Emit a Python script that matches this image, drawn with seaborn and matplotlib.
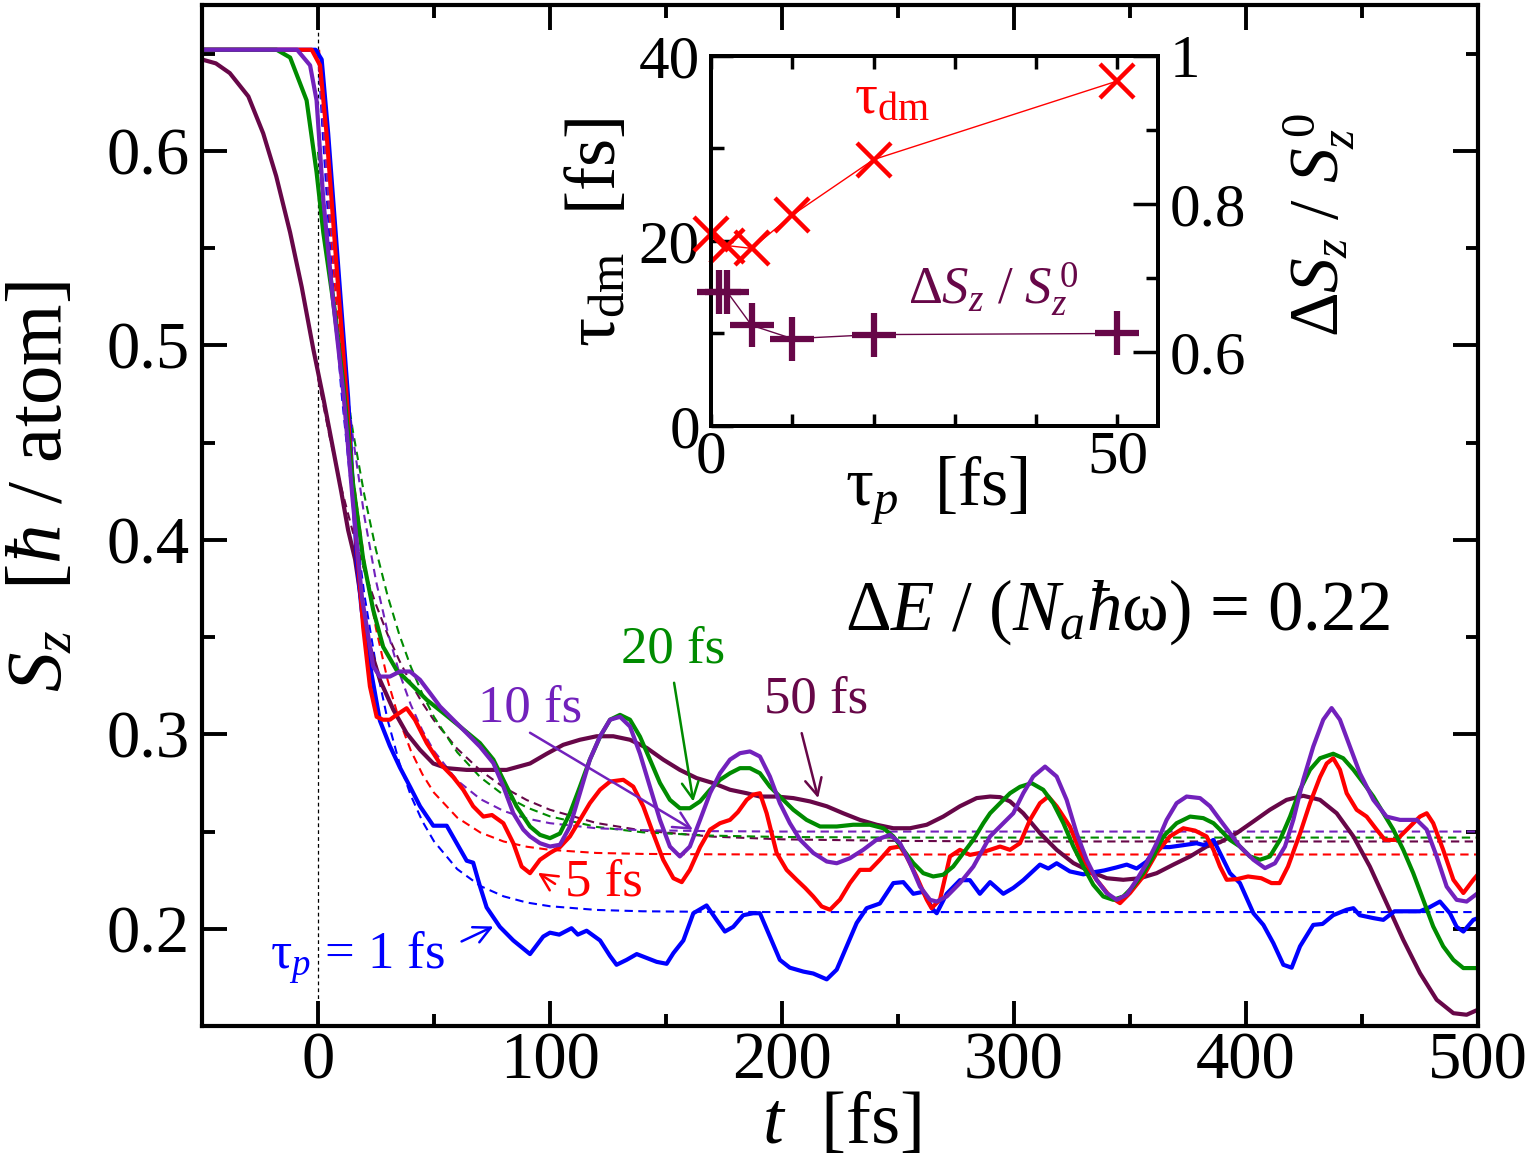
import matplotlib
matplotlib.use("Agg")
import matplotlib.pyplot as plt
from matplotlib.ticker import MultipleLocator, FixedLocator, FuncFormatter
import seaborn as sns

# ---------------- data ----------------
# solid curves: S_z(t) for pulse widths tau_p, (t [fs], S_z [hbar/atom])
tp1_pts = [(-50,0.652),(-1,0.652),(1.6,0.647),(4.4,0.609),(8.7,0.541),(13,0.473),(16.7,0.39),(18.8,0.364),(21,0.347),
           (23.1,0.331),(26.7,0.307),(31,0.294),(35.3,0.283),(39.7,0.273),(44,0.263),(49.7,0.253),(55.5,0.253),(59.8,0.244),
           (64.1,0.235),(66.9,0.234),(69.8,0.222),(72.7,0.211),(78.4,0.201),(84.2,0.194),(91.4,0.187),(97.1,0.196),(100,0.198),
           (104,0.197),(109.3,0.2003),(112,0.197),(115.8,0.199),(121.6,0.194),(125.9,0.186),(128.7,0.1815),(133,0.184),
           (137.4,0.187),(141.7,0.185),(146,0.183),(150.3,0.182),(153.2,0.1875),(157.5,0.194),(161.8,0.208),(167.5,0.212),
           (171.8,0.2046),(175.4,0.1986),(179,0.201),(183.3,0.207),(187.6,0.208),(190.5,0.208),(194.8,0.196),(199.1,0.184),
           (203.4,0.180),(209.2,0.178),(213.5,0.177),(219.3,0.174),(223.6,0.179),(227.9,0.191),(232.2,0.203),(236.5,0.2106),
           (242.2,0.213),(248,0.2235),(252.3,0.224),(256.6,0.218),(260.9,0.219),(265.2,0.2098),(266.7,0.208),(271,0.218),
           (276.7,0.225),(281,0.225),(285.3,0.218),(289.7,0.224),(295.4,0.218),(299.7,0.221),(304,0.225),(311.2,0.233),
           (314.8,0.231),(318.4,0.2337),(324.1,0.2295),(329.9,0.228),(334,0.229),(338.9,0.230),(344,0.2315),(348.6,0.233),
           (352.9,0.231),(357.2,0.2346),(361.5,0.242),(367,0.242),(373,0.243),(378.7,0.244),(382,0.243),(386,0.2457),
           (388.8,0.239),(393.1,0.2286),(397.4,0.2235),(403.2,0.208),(407.5,0.202),(411.8,0.1926),(416.1,0.1815),
           (419.7,0.180),(423.3,0.191),(429,0.202),(433,0.2025),(437.6,0.207),(443.4,0.2098),(446.3,0.2106),(449,0.207),
           (454.9,0.2055),(459.2,0.2046),(464,0.209),(469.3,0.209),(475,0.209),(479,0.211),(483.6,0.214),(487.9,0.208),
           (490.8,0.201),(493.7,0.1986),(498,0.2046),(500,0.2055)]
tp5_pts = [(-50,0.652),(-2.7,0.652),(0.9,0.644),(3.7,0.609),(8,0.541),(12.4,0.473),(16.5,0.40),(19.5,0.355),(22.4,0.3246),
           (25.3,0.309),(28,0.3075),(31,0.3075),(33.9,0.31),(38.2,0.3134),(41.8,0.3075),(46.9,0.2955),(52.6,0.285),
           (58.3,0.278),(62.6,0.2715),(66.9,0.263),(71.3,0.2577),(75,0.2585),(79.9,0.2543),(84.2,0.244),(87.8,0.232),
           (91.4,0.2286),(95.7,0.2355),(100,0.239),(104.3,0.242),(108.6,0.2475),(112.9,0.256),(117.2,0.2646),(121.6,0.2715),
           (125.9,0.2757),(131.6,0.2766),(135.9,0.2731),(140.2,0.263),(144.5,0.249),(148.8,0.2355),(153.2,0.226),
           (156.8,0.224),(160.3,0.2303),(164.7,0.242),(169,0.251),(173.3,0.2543),(177.6,0.256),(181,0.260),(184.8,0.2663),
           (187.6,0.269),(190.5,0.2697),(193.4,0.2594),(197.7,0.239),(202,0.2303),(206.3,0.2252),(210,0.221),(213.5,0.2166),
           (217.1,0.2115),(220.7,0.2098),(225,0.215),(229.3,0.2235),(233.6,0.2303),(238,0.2303),(242.2,0.2355),
           (246.6,0.2415),(250.9,0.2423),(253.7,0.2372),(258,0.2269),(262.4,0.215),(264.5,0.2106),(268.1,0.215),
           (272.4,0.2372),(276.7,0.2406),(281,0.238),(285.3,0.239),(289.7,0.2406),(294,0.2423),(298.3,0.2406),
           (302.6,0.244),(306.9,0.256),(311.2,0.2646),(314.8,0.268),(318.4,0.263),(324.1,0.2526),(329.9,0.2355),
           (335.6,0.2252),(341.4,0.2166),(345.7,0.2132),(350,0.2184),(355.7,0.2269),(361.5,0.239),(367.2,0.2475),
           (373,0.2517),(378,0.2505),(383,0.2475),(386,0.2406),(388.8,0.232),(391.7,0.2252),(396,0.2255),(400.9,0.2269),
           (406.6,0.226),(411,0.2235),(414.5,0.2235),(418.1,0.232),(423.3,0.249),(427.6,0.2646),(431.9,0.278),
           (434.8,0.285),(437.6,0.2877),(440.5,0.2818),(443.4,0.2697),(447.7,0.2612),(452,0.2577),(456.3,0.251),
           (459.9,0.2457),(464.9,0.2457),(470.7,0.2526),(475,0.2577),(477.9,0.2594),(480.7,0.2543),(485,0.2406),
           (489.4,0.2252),(493.7,0.2184),(498,0.2252),(500,0.228)]
tp10_pts = [(-50,0.652),(-9,0.652),(-3.4,0.644),(-0.6,0.626),(2.3,0.575),(6.5,0.523),(11,0.475),(15,0.42),(19,0.37),
            (23.8,0.335),(26.7,0.3297),(31,0.3297),(35.3,0.3323),(39.7,0.3323),(44,0.328),(48.3,0.3212),(52.6,0.3143),
            (58.3,0.3075),(64.1,0.3006),(69.8,0.2937),(75.6,0.2852),(79.9,0.2732),(84.2,0.2594),(88.5,0.251),
            (91.4,0.2475),(95.7,0.244),(100,0.2423),(104.3,0.2432),(108.6,0.2526),(112.9,0.2697),(117.2,0.287),
            (121.6,0.299),(125.9,0.3075),(130.2,0.309),(134.5,0.304),(138.8,0.290),(143.1,0.273),(147.4,0.256),
            (151.7,0.2423),(156,0.2372),(160.3,0.2423),(164.7,0.256),(169,0.2697),(173.3,0.280),(177.6,0.287),
            (181.9,0.2903),(186.2,0.2912),(190.5,0.2886),(194.8,0.2783),(199.1,0.2646),(203.4,0.2543),(207.8,0.2458),
            (213.5,0.239),(219.3,0.2346),(223.6,0.2337),(229.3,0.2363),(235,0.2406),(240.8,0.2458),(246.6,0.2483),
            (250.9,0.244),(255.2,0.2337),(259.5,0.2217),(263.8,0.2149),(266.7,0.214),(271,0.2166),(276.7,0.2235),
            (282.5,0.232),(289.7,0.2475),(295.4,0.2543),(299.7,0.2594),(304,0.2697),(308.3,0.2783),(313.4,0.2834),
            (318.4,0.2783),(322.7,0.2663),(327,0.2492),(331.3,0.2355),(335.6,0.2252),(339.9,0.2184),(344.3,0.2149),
            (348.6,0.2175),(352.9,0.2252),(357.2,0.2337),(361.5,0.244),(365.8,0.256),(370.1,0.2646),(374.4,0.268),
            (380.2,0.2672),(384.5,0.263),(388.8,0.256),(393.1,0.2492),(397.4,0.2423),(403.2,0.2355),(408.2,0.2312),
            (412.5,0.2337),(416.8,0.2423),(420.4,0.256),(424.7,0.2766),(429,0.2937),(433.3,0.3075),(436.9,0.3135),
            (440.5,0.3075),(444.8,0.2937),(449.1,0.280),(454.9,0.2663),(460.6,0.2577),(466.4,0.256),(473.6,0.256),
            (477.9,0.251),(482.2,0.2372),(486.5,0.2217),(490.8,0.2149),(495.1,0.214),(500,0.2184)]
tp20_pts = [(-50,0.652),(-17.8,0.652),(-12,0.648),(-4.9,0.626),(-0.6,0.589),(2.3,0.558),(6.5,0.523),(10.9,0.481),
            (15,0.43),(19.5,0.39),(23.8,0.364),(28.1,0.345),(33.9,0.333),(39.7,0.3263),(46.9,0.3177),(54,0.311),
            (61.2,0.304),(69.8,0.2955),(75.6,0.287),(81.3,0.2732),(85.6,0.263),(91.4,0.2526),(95.7,0.2483),(100,0.2466),
            (104.3,0.249),(108.6,0.2594),(112.9,0.273),(117.2,0.287),(121.6,0.2988),(125.9,0.3075),(130.2,0.31),
            (134.5,0.3075),(138.8,0.2988),(143.1,0.287),(147.4,0.275),(151.7,0.2663),(156,0.262),(160.3,0.262),
            (164.7,0.2655),(169,0.2715),(173.3,0.2766),(177.6,0.28),(181.9,0.2826),(186.2,0.2826),(190.5,0.28),
            (194.8,0.2731),(199.1,0.268),(204.9,0.2612),(210.6,0.256),(216.4,0.2526),(223.6,0.2526),(230.7,0.2535),
            (237.9,0.2535),(243.7,0.2517),(248,0.2475),(252.3,0.2406),(256.6,0.2338),(260.9,0.2286),(265.2,0.2269),
            (269.5,0.2278),(273.8,0.232),(278.2,0.239),(282.5,0.2458),(286.8,0.2543),(289.7,0.2594),(294,0.2646),
            (298.3,0.2697),(302.6,0.273),(307.6,0.2749),(312.6,0.2715),(316.9,0.2646),(321.3,0.2543),(325.6,0.2423),
            (329.9,0.232),(334.2,0.2226),(338.5,0.2166),(342.8,0.2149),(347.1,0.2166),(351.4,0.2217),(355.7,0.2286),
            (360,0.2372),(364.4,0.2475),(370.1,0.2543),(375.9,0.2577),(381.6,0.2569),(386,0.2543),(388.8,0.251),
            (393.1,0.2457),(397.4,0.2423),(401.7,0.2372),(406,0.2355),(410.3,0.2372),(414.7,0.2458),(419,0.2577),
            (423.3,0.2715),(427.6,0.2818),(431.9,0.2877),(437.6,0.290),(441.9,0.2877),(446.3,0.2818),(450.6,0.275),
            (454.9,0.268),(459.2,0.2595),(463.5,0.251),(467.8,0.2406),(472.1,0.2286),(476.4,0.2149),(480.7,0.2012),
            (485,0.191),(489.4,0.184),(493.7,0.1798),(500,0.1798)]
tp50_pts = [(-50,0.647),(-44,0.645),(-38,0.640),(-30,0.628),(-23.6,0.609),(-18,0.587),(-12,0.558),(-7,0.53),(-2,0.498),
            (2.3,0.473),(6,0.45),(10,0.425),(13,0.405),(16,0.39),(21,0.350),(26.7,0.328),(32.5,0.3126),(38.2,0.3006),
            (44,0.292),(49.7,0.285),(55.5,0.2826),(64.1,0.2817),(72.7,0.2817),(81.3,0.2817),(91.4,0.285),(98.6,0.290),
            (105.7,0.2946),(112.9,0.2972),(120.1,0.299),(127.3,0.299),(134.5,0.2972),(141.7,0.293),(148.8,0.287),
            (156,0.2817),(163.2,0.2775),(170.4,0.2749),(177.6,0.2715),(184.8,0.2697),(190.5,0.268),(197.7,0.268),
            (204.9,0.2672),(212.1,0.2655),(219.3,0.263),(226.4,0.2594),(233.6,0.256),(240.8,0.2535),(248,0.2517),
            (255.2,0.2517),(262.4,0.2535),(269.5,0.2577),(276.7,0.263),(283.9,0.2672),(289.7,0.268),(294,0.2677),
            (298.3,0.2655),(304,0.2594),(311.2,0.2492),(318.4,0.2406),(325.6,0.2338),(332.8,0.2295),(340,0.226),
            (347.1,0.2252),(354.3,0.226),(361.5,0.2286),(368.7,0.233),(375.9,0.2372),(383,0.2423),(388.8,0.2445),
            (396,0.2492),(403.2,0.2552),(410.3,0.2612),(417.5,0.2663),(424.7,0.2684),(431.9,0.2663),(439.1,0.2594),
            (446.3,0.2475),(453.4,0.232),(460.6,0.2132),(467.8,0.1943),(475,0.1772),(482.2,0.1635),(489.4,0.1566),
            (495.1,0.1558),(500,0.1584)]

# dashed fitted curves (t [fs], S_z)
fit1_pts = [(0,0.652),(2,0.6098),(5,0.5539),(10,0.4775),(15,0.4181),(20,0.3717),(25,0.3356),(30,0.3075),(35,0.2857),
            (40,0.2686),(45,0.2553),(50,0.245),(60,0.2307),(70,0.222),(80,0.2167),(90,0.2135),(100,0.2116),(120,0.2097),
            (140,0.209),(170,0.2087),(200,0.2086),(500,0.2086)]
fit5_pts = [(0.5,0.652),(2,0.621),(5,0.5659),(10,0.4912),(15,0.4334),(20,0.3889),(25,0.3545),(30,0.328),(35,0.3075),
            (40,0.2917),(45,0.2795),(50,0.27),(60,0.2572),(70,0.2495),(80,0.2449),(90,0.2422),(100,0.2406),(120,0.239),
            (140,0.2385),(170,0.2383),(200,0.2382),(500,0.2382)]
fit10_pts = [(0,0.652),(2,0.6171),(5,0.5703),(10,0.5052),(15,0.4533),(20,0.412),(25,0.379),(30,0.3528),(35,0.3319),
             (40,0.3152),(45,0.302),(50,0.2914),(60,0.2763),(70,0.2667),(80,0.2606),(90,0.2567),(100,0.2543),
             (120,0.2517),(140,0.2507),(170,0.2502),(200,0.250),(500,0.250)]
fit20_pts = [(0,0.5995),(5,0.5433),(10,0.496),(15,0.4563),(20,0.423),(25,0.3949),(30,0.3713),(35,0.3515),(40,0.3348),
             (45,0.3208),(50,0.309),(60,0.2908),(70,0.2779),(80,0.2688),(90,0.2624),(100,0.2578),(120,0.2524),
             (140,0.2496),(170,0.2479),(200,0.2472),(250,0.2469),(500,0.2469)]
fit50_pts = [(0,0.4831),(5,0.4532),(10,0.427),(15,0.4042),(20,0.3842),(25,0.3667),(30,0.3514),(35,0.3381),(40,0.3264),
             (45,0.3161),(50,0.3072),(60,0.2926),(70,0.2814),(80,0.2728),(90,0.2662),(100,0.2612),(120,0.2544),
             (140,0.2505),(170,0.2474),(200,0.246),(250,0.2452),(300,0.2449),(500,0.2449)]

# inset data
tau_p_dm = [0, 2, 5, 10, 20, 50]
tau_dm = [20.8, 19.5, 19.2, 22.8, 28.8, 37.3]
tau_p_ds = [1, 2, 5, 10, 20, 50]
ds_ratio = [0.681, 0.681, 0.636, 0.618, 0.6235, 0.625]

# ---------------- style ----------------
BLUE, RED, GREEN, INDIGO, MAROON = "#0000FF", "#FF0000", "#008B00", "#7221BC", "#670748"

sns.set_theme(style="ticks")
plt.rcParams["font.family"] = ["Liberation Serif", "DejaVu Serif"]
plt.rcParams["mathtext.fontset"] = "custom"
plt.rcParams["mathtext.rm"] = "Liberation Serif"
plt.rcParams["mathtext.it"] = "Liberation Serif:italic"
plt.rcParams["mathtext.bf"] = "Liberation Serif:bold"
plt.rcParams["axes.unicode_minus"] = False
for key in ("text.color", "axes.labelcolor", "xtick.color", "ytick.color", "axes.edgecolor"):
    plt.rcParams[key] = "black"

fig = plt.figure(figsize=(15.3, 11.69), dpi=100)
fig.patch.set_facecolor("white")
ax = fig.add_axes([0.132, 0.1223, 0.834, 0.8734])
ax.set_facecolor("white")

def split(pts):
    return [p[0] for p in pts], [p[1] for p in pts]

# dashed fits first
for pts, c in [(fit1_pts, BLUE), (fit5_pts, RED), (fit50_pts, MAROON), (fit20_pts, GREEN), (fit10_pts, INDIGO)]:
    x, y = split(pts)
    sns.lineplot(x=x, y=y, ax=ax, color=c, lw=1.5, linestyle=(0, (4, 2.6)), estimator=None, sort=False)

for pts, c in [(tp50_pts, MAROON), (tp1_pts, BLUE), (tp5_pts, RED), (tp20_pts, GREEN), (tp10_pts, INDIGO)]:
    x, y = split(pts)
    sns.lineplot(x=x, y=y, ax=ax, color=c, lw=3.0, estimator=None, sort=False)

ax.axvline(0, color="black", lw=0.9, ls=(0, (3, 2.5)), zorder=0.5)

ax.set_xlim(-50, 500)
ax.set_ylim(0.15, 0.675)
ax.xaxis.set_major_locator(MultipleLocator(100))
ax.xaxis.set_minor_locator(MultipleLocator(50))
ax.yaxis.set_major_locator(MultipleLocator(0.1))
ax.yaxis.set_minor_locator(MultipleLocator(0.05))
ax.xaxis.set_major_formatter(FuncFormatter(lambda v, p: f"{v:.0f}"))
ax.yaxis.set_major_formatter(FuncFormatter(lambda v, p: f"{v:.1f}"))
ax.tick_params(which="both", direction="in", top=True, right=True, width=2.8, colors="black")
ax.tick_params(which="major", length=18)
ax.tick_params(which="minor", length=9)
ax.tick_params(axis="x", which="major", labelsize=48, pad=4)
ax.tick_params(axis="y", which="major", labelsize=48, pad=9)
for s in ax.spines.values():
    s.set_linewidth(3)
    s.set_color("black")
ax.set_xlabel("")
ax.set_ylabel("")

ax.text(-0.125, 0.528, r"$S_z$  [$\mathit{ħ}$ / atom]", transform=ax.transAxes, rotation=90,
        ha="center", va="center", fontsize=57)
ax.text(0.5008, -0.097, r"$t$  [fs]", transform=ax.transAxes, ha="center", va="center", fontsize=54)

# energy text
ax.text(344.4, 0.3537, r"Δ$E$ / ($N_a\mathit{ħ}$ω) = 0.22", ha="center", va="baseline", fontsize=51)

# labels with arrows
arrow_kw = dict(arrowstyle="->", lw=1.8, mutation_scale=30, shrinkA=0, shrinkB=0)
ax.text(153, 0.3434, "20 fs", color=GREEN, fontsize=38, ha="center", va="center")
ax.annotate("", xy=(161.8, 0.2654), xytext=(153.5, 0.3265), arrowprops=dict(color=GREEN, **arrow_kw))
ax.text(91.4, 0.3131, "10 fs", color=INDIGO, fontsize=38, ha="center", va="center")
ax.annotate("", xy=(161.6, 0.2509), xytext=(91.4, 0.3008), arrowprops=dict(color=INDIGO, **arrow_kw))
ax.text(214.7, 0.3177, "50 fs", color=MAROON, fontsize=38, ha="center", va="center")
ax.annotate("", xy=(215.6, 0.2672), xytext=(208.5, 0.3006), arrowprops=dict(color=MAROON, **arrow_kw))
ax.text(123.3, 0.2237, "5 fs", color=RED, fontsize=38, ha="center", va="center")
ax.annotate("", xy=(94.8, 0.2288), xytext=(102.2, 0.2231), arrowprops=dict(color=RED, **arrow_kw))
ax.text(17.2, 0.1855, r"τ$_p$ = 1 fs", color=BLUE, fontsize=38, ha="center", va="center")
ax.annotate("", xy=(75.6, 0.2012), xytext=(61.9, 0.1935), arrowprops=dict(color=BLUE, **arrow_kw))

# ---------------- inset ----------------
ax_in = fig.add_axes([0.4647, 0.6356, 0.2922, 0.3165])
ax_in.set_facecolor("white")
sns.lineplot(x=tau_p_dm, y=tau_dm, ax=ax_in, color=RED, lw=1.0, marker="x", markersize=24,
             markeredgewidth=3.2, markeredgecolor=RED, estimator=None, sort=False, clip_on=False, zorder=3)
ax_in.set_xlim(0, 55)
ax_in.set_ylim(0, 40)
ax_r = ax_in.twinx()
sns.lineplot(x=tau_p_ds, y=ds_ratio, ax=ax_r, color=MAROON, lw=1.0, marker="+", markersize=32,
             markeredgewidth=4.5, markeredgecolor=MAROON, estimator=None, sort=False, clip_on=False, zorder=3)
ax_r.set_ylim(0.5, 1.0)
ax_in.set_xlabel(""); ax_in.set_ylabel(""); ax_r.set_ylabel("")

ax_in.xaxis.set_major_locator(FixedLocator([0, 10, 20, 30, 40, 50]))
ax_in.xaxis.set_major_formatter(FuncFormatter(lambda v, p: f"{v:.0f}" if v in (0, 50) else ""))
ax_in.yaxis.set_major_locator(FixedLocator([0, 20, 40]))
ax_in.yaxis.set_minor_locator(FixedLocator([10, 30]))
ax_r.yaxis.set_major_locator(FixedLocator([0.6, 0.8, 1.0]))
ax_r.yaxis.set_minor_locator(FixedLocator([0.7, 0.9]))
ax_r.yaxis.set_major_formatter(FuncFormatter(lambda v, p: "1" if abs(v - 1) < 1e-9 else f"{v:.1f}"))
ax_in.tick_params(axis="x", which="major", direction="in", top=True, bottom=True, length=9, width=2.5,
                  labelsize=44, pad=3, colors="black")
ax_in.tick_params(axis="y", which="major", direction="in", left=True, right=False, length=16, width=2.5,
                  labelsize=44, pad=8, colors="black")
ax_in.tick_params(axis="y", which="minor", direction="in", left=True, right=False, length=9, width=2.5)
ax_r.tick_params(axis="y", which="major", direction="in", right=True, left=False, length=18, width=2.5,
                 labelsize=44, pad=8, colors="black")
ax_r.tick_params(axis="y", which="minor", direction="in", right=True, left=False, length=9, width=2.5)
for a in (ax_in, ax_r):
    for s in a.spines.values():
        s.set_linewidth(2.8)
        s.set_color("black")

ax_in.text(0.503, -0.2135, r"τ$_p$  [fs]", transform=ax_in.transAxes, ha="center", va="baseline", fontsize=50)
ax_in.text(-0.252, 0.524, r"τ$_{\mathrm{dm}}$  [fs]", transform=ax_in.transAxes, rotation=90,
           ha="center", va="center", fontsize=52)
ax_in.text(1.36, 0.543, r"Δ$S_z$ / $S_z^{\,\mathit{0}}$", transform=ax_in.transAxes, rotation=90,
           ha="center", va="center", fontsize=50)
ax_in.text(17.6, 33.8, r"τ$_{\mathrm{dm}}$", color=RED, fontsize=41, ha="left", va="baseline")
ax_in.text(24.2, 13.1, r"Δ$S_z$ / $S_z^{\,\mathit{0}}$", color=MAROON, fontsize=38, ha="left", va="baseline")

fig.savefig("out.png", dpi=100, facecolor="white")
